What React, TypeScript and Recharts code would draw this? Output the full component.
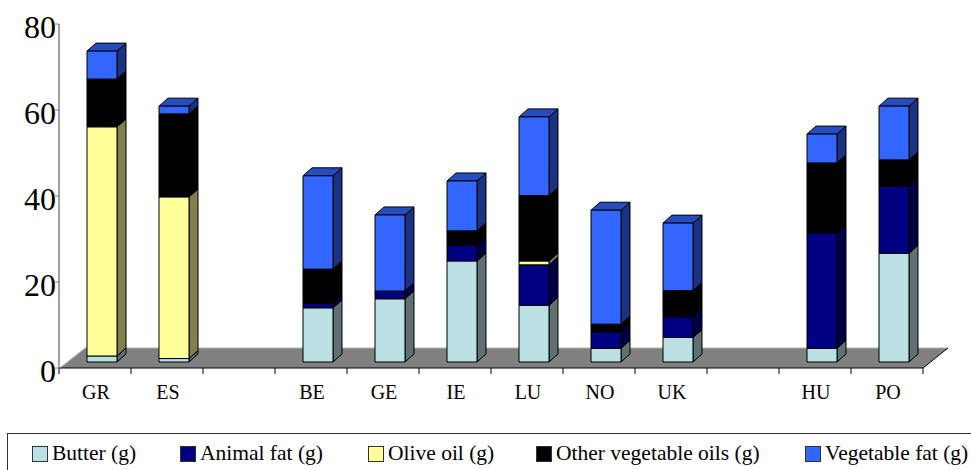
import React from 'react';
import { BarChart, Bar, XAxis, YAxis, ReferenceArea } from 'recharts';

const countries = ['GR', 'ES', '', 'BE', 'GE', 'IE', 'LU', 'NO', 'UK', '', 'HU', 'PO'];

// grams per segment
const butter = [1.4, 0.8, 0, 12.6, 14.7, 23.5, 13.2, 3.2, 5.7, 0, 3.2, 25.3];
const animalFat = [0, 0, 0, 1, 1.8, 3.7, 9.4, 3.8, 4.8, 0, 26.8, 15.6];
const oliveOil = [53.3, 37.6, 0, 0, 0, 0, 0.9, 0, 0, 0, 0, 0];
const otherOils = [11.1, 19.3, 0, 8, 0, 3.3, 15.2, 1.8, 6.1, 0, 16.3, 6.1];
const vegetableFat = [6.5, 1.8, 0, 21.7, 17.7, 11.6, 18.3, 26.5, 15.7, 0, 6.7, 12.5];

const yTicks = [0, 20, 40, 60, 80];

const SERIES = [
  { key: 'butter', name: 'Butter (g)', values: butter, front: '#BBE0E3', side: '#5E7072', top: '#8CA8AA' },
  { key: 'animalFat', name: 'Animal fat (g)', values: animalFat, front: '#000080', side: '#000040', top: '#000060' },
  { key: 'oliveOil', name: 'Olive oil (g)', values: oliveOil, front: '#FFFF99', side: '#80804D', top: '#BFBF73' },
  { key: 'otherOils', name: 'Other vegetable oils (g)', values: otherOils, front: '#000000', side: '#000000', top: '#000000' },
  { key: 'vegetableFat', name: 'Vegetable fat (g)', values: vegetableFat, front: '#3366FF', side: '#1A3380', top: '#264DBF' },
];

const chartData = countries.map((country, i) => {
  const row: any = { country, slot: i };
  SERIES.forEach((s) => {
    row[s.key] = s.values[i];
  });
  return row;
});

const FONT = '"Liberation Serif", "Times New Roman", serif';
const DEPTH_X = 9;
const DEPTH_Y = 8;
const LIFT = 6; // bars stand a little behind the front edge of the floor
const SHIFT = 7;
const BAND = 72;

// 3D box for one stacked segment
const Box3D = ({ x, y, width, height, colors }: any) => {
  if (!height || height <= 0) return null;
  const l = x + SHIFT;
  const r = l + width;
  const t = y - LIFT;
  const b = t + height;
  return (
    <g stroke="#000" strokeWidth={1} strokeLinejoin="round">
      <polygon
        points={`${r},${t} ${r + DEPTH_X},${t - DEPTH_Y} ${r + DEPTH_X},${b - DEPTH_Y} ${r},${b}`}
        fill={colors.side}
      />
      <polygon
        points={`${l},${t} ${l + DEPTH_X},${t - DEPTH_Y} ${r + DEPTH_X},${t - DEPTH_Y} ${r},${t}`}
        fill={colors.top}
      />
      <rect x={l} y={t} width={width} height={height} fill={colors.front} />
    </g>
  );
};

// the grey floor of the 3D chart, sits on the bottom of the plot
const Floor = ({ x, y, width, height }: any) => {
  const bottom = y + height;
  const top = bottom - 20;
  return (
    <g>
      <polygon
        points={`${x},${bottom} ${x + 26},${top} ${x + width + 25},${top} ${x + width},${bottom}`}
        fill="#808080"
      />
      <line x1={x + 1} y1={bottom} x2={x + 26} y2={top} stroke="#C8C8C8" strokeWidth={1} />
      <line x1={x + 26} y1={top} x2={x + width + 25} y2={top} stroke="#B0B0B0" strokeWidth={1} />
      <line x1={x} y1={bottom} x2={x + width} y2={bottom} stroke="#000" strokeWidth={1} />
      <line x1={x + width} y1={bottom} x2={x + width + 25} y2={top} stroke="#000" strokeWidth={1} />
    </g>
  );
};

const XTick = ({ x, y, payload, index }: any) => {
  const label = countries[index] ?? payload.value;
  return (
    <g>
      <line x1={x - BAND / 2} y1={y - 8} x2={x - BAND / 2} y2={y - 2} stroke="#000" />
      {index === countries.length - 1 && (
        <line x1={x + BAND / 2} y1={y - 8} x2={x + BAND / 2} y2={y - 2} stroke="#000" />
      )}
      <text x={x + 1} y={y + 23} textAnchor="middle" fontFamily={FONT} fontSize={20} fill="#000">
        {label}
      </text>
    </g>
  );
};

// recharts hands over x already moved off the axis line, so the tick runs back to it
const YTick = ({ x, y, payload }: any) => (
  <g>
    <line x1={x + 4} y1={y} x2={x + 8} y2={y} stroke="#808080" strokeWidth={1} />
    <text x={x + 5} y={y + 14} textAnchor="end" fontFamily={FONT} fontSize={32} fill="#000">
      {payload.value}
    </text>
  </g>
);

const LEGEND_X = [32, 180, 368, 536, 805];

// box runs off the right and bottom of the picture, as in the source
const ChartLegend = () => (
  <div
    style={{
      position: 'absolute',
      left: 7,
      top: 433,
      width: 980,
      height: 60,
      border: '1px solid #333',
      fontFamily: FONT,
      fontSize: 21.5,
      color: '#000',
    }}
  >
    {SERIES.map((s, i) => (
      <div key={s.key} style={{ position: 'absolute', left: LEGEND_X[i] - 8, top: 0, height: 32, whiteSpace: 'nowrap' }}>
        <span
          style={{
            position: 'absolute',
            left: 0,
            top: 12,
            width: 14,
            height: 14,
            background: s.front,
            border: '1px solid #333',
          }}
        />
        <span style={{ position: 'absolute', left: 20, top: 8, lineHeight: '23px' }}>{s.name}</span>
      </div>
    ))}
  </div>
);

export default function App() {
  return (
    <div style={{ position: 'absolute', left: 0, top: 0, width: 971, height: 470, overflow: 'hidden', background: '#fff' }}>
      <BarChart
        width={971}
        height={470}
        data={chartData}
        margin={{ top: 24, right: 48, bottom: 0, left: 0 }}
        barCategoryGap={21}
      >
        <XAxis
          dataKey="slot"
          type="category"
          interval={0}
          height={102}
          tickLine={false}
          axisLine={false}
          tick={<XTick />}
        />
        <YAxis
          width={59}
          domain={[0, 80]}
          ticks={yTicks}
          tickLine={false}
          axisLine={{ stroke: '#808080', strokeWidth: 1.5 }}
          tick={<YTick />}
        />
        <ReferenceArea y1={0} y2={1} shape={<Floor />} fillOpacity={1} ifOverflow="visible" />
        {SERIES.map((s) => (
          <Bar
            key={s.key}
            dataKey={s.key}
            name={s.name}
            stackId="fat"
            barSize={30}
            isAnimationActive={false}
            shape={(props: any) => <Box3D {...props} colors={s} />}
          />
        ))}
      </BarChart>
      <ChartLegend />
    </div>
  );
}
